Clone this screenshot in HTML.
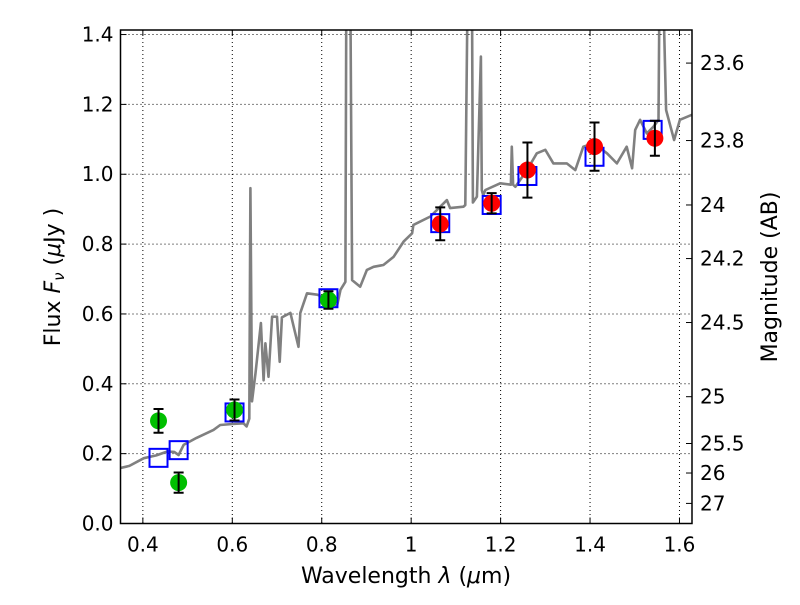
<!DOCTYPE html>
<html><head><meta charset="utf-8">
<style>
html,body{margin:0;padding:0;background:#fff;}
svg text{font-family:"DejaVu Sans","Liberation Sans",sans-serif;fill:#000;}
</style></head>
<body>
<svg id="chart" width="800" height="600" viewBox="0 0 800 600" xmlns="http://www.w3.org/2000/svg">
<g id="grid"></g>
<g id="plot"></g>
<g id="axes"></g>
<text x="406" y="583" font-size="22" text-anchor="middle">Wavelength  <tspan font-style="italic">λ</tspan> (<tspan font-style="italic">μ</tspan>m)</text>
<text transform="translate(60,277) rotate(-90)" font-size="22" text-anchor="middle">Flux  <tspan font-style="italic">F</tspan><tspan font-style="italic" font-size="15" dy="4">ν</tspan><tspan dy="-4">  (</tspan><tspan font-style="italic">μ</tspan>Jy )</text>
<text transform="translate(777,277) rotate(-90)" font-size="22" text-anchor="middle">Magnitude (AB)</text>
</svg>
<script>
const xTicks = [0.4, 0.6, 0.8, 1.0, 1.2, 1.4, 1.6];
const xTickLabels = ["0.4", "0.6", "0.8", "1", "1.2", "1.4", "1.6"];
const yTicks = [0.0, 0.2, 0.4, 0.6, 0.8, 1.0, 1.2, 1.4];
const yTickLabels = ["0.0", "0.2", "0.4", "0.6", "0.8", "1.0", "1.2", "1.4"];
const magTicks = [23.6, 23.8, 24, 24.2, 24.5, 25, 25.5, 26, 27];
const magTickLabels = ["23.6", "23.8", "24", "24.2", "24.5", "25", "25.5", "26", "27"];
const specWave = [0.35,0.37,0.402,0.43,0.454,0.47,0.480,0.491,0.52,0.558,0.573,0.60,0.625,0.632,0.638,0.6405,0.644,0.652,0.664,0.670,0.674,0.681,0.689,0.700,0.706,0.711,0.730,0.748,0.752,0.767,0.790,0.819,0.834,0.842,0.853,0.855,0.857,0.862,0.864,0.868,0.886,0.901,0.916,0.938,0.961,0.983,1.002,1.005,1.043,1.080,1.087,1.117,1.121,1.126,1.128,1.134,1.136,1.138,1.147,1.156,1.158,1.161,1.166,1.199,1.223,1.225,1.228,1.233,1.259,1.281,1.300,1.318,1.348,1.367,1.385,1.408,1.438,1.460,1.482,1.494,1.501,1.512,1.527,1.542,1.553,1.555,1.557,1.562,1.564,1.570,1.588,1.601,1.627,1.63];
const specFlux = [0.159,0.165,0.187,0.195,0.206,0.205,0.196,0.225,0.245,0.268,0.282,0.285,0.287,0.278,0.30,0.96,0.35,0.43,0.574,0.41,0.516,0.42,0.592,0.592,0.463,0.59,0.603,0.506,0.603,0.659,0.655,0.64,0.621,0.669,0.692,1.5,1.5,1.5,1.5,0.697,0.678,0.726,0.735,0.74,0.764,0.807,0.831,0.855,0.879,0.926,0.903,0.907,0.912,1.5,1.5,1.5,1.5,0.919,0.936,1.337,0.955,0.94,0.955,0.974,0.97,1.079,0.97,0.964,1.012,1.06,1.07,1.031,1.031,1.012,1.079,1.089,1.06,1.031,1.079,1.017,1.127,1.156,1.117,1.136,1.156,1.5,1.5,1.5,1.5,1.184,1.098,1.156,1.170,1.17];
const photWave = [0.435, 0.48, 0.605, 0.815, 1.065, 1.18, 1.26, 1.41, 1.545];
const photFlux = [0.294, 0.117, 0.325, 0.640, 0.858, 0.917, 1.012, 1.079, 1.103];
const photErr = [0.034, 0.029, 0.03, 0.025, 0.047, 0.029, 0.079, 0.069, 0.05];
const photColor = ["#00bf00","#00bf00","#00bf00","#00bf00","#ff0000","#ff0000","#ff0000","#ff0000","#ff0000"];
const modelWave = [0.435, 0.48, 0.605, 0.815, 1.065, 1.18, 1.26, 1.41, 1.54];
const modelFlux = [0.188, 0.21, 0.318, 0.645, 0.86, 0.912, 0.995, 1.05, 1.127];

const L=120.5, R=692, T=30, B=523.5;
const xMin=0.35, xMax=1.628, yMin=0, yMax=1.413;
const X = v => L + (v-xMin)/(xMax-xMin)*(R-L);
const Y = v => B - (v-yMin)/(yMax-yMin)*(B-T);
const magToFlux = m => Math.pow(10,(23.9-m)/2.5);
const NS="http://www.w3.org/2000/svg";
function mk(tag, attrs, parent){const e=document.createElementNS(NS,tag);for(const k in attrs)e.setAttribute(k,attrs[k]);parent.appendChild(e);return e;}
const grid=document.getElementById('grid'), plot=document.getElementById('plot'), axes=document.getElementById('axes');

const defs=mk('defs',{},document.getElementById('chart'));
const cp=mk('clipPath',{id:'clip'},defs);
mk('rect',{x:L,y:T,width:R-L,height:B-T},cp);
plot.setAttribute('clip-path','url(#clip)');

xTicks.forEach((t,i)=>{
  const x=X(t);
  const g=mk('line',{x1:x,x2:x,y1:T,y2:B,stroke:'#000','stroke-width':1,'stroke-dasharray':'1,3'},grid);
  
  
  mk('line',{x1:x,x2:x,y1:B,y2:B-6,stroke:'#000','stroke-width':1},axes);
  mk('line',{x1:x,x2:x,y1:T,y2:T+6,stroke:'#000','stroke-width':1},axes);
  const tx=mk('text',{x:x,y:B+28,'font-size':20,'text-anchor':'middle'},axes);
  tx.textContent=xTickLabels[i];
  
  
});
yTicks.forEach((t,i)=>{
  const y=Y(t);
  const g=mk('line',{x1:L,x2:R,y1:y,y2:y,stroke:'#000','stroke-width':1,'stroke-dasharray':'1,3'},grid);
  
  
  mk('line',{x1:L,x2:L+6,y1:y,y2:y,stroke:'#000','stroke-width':1},axes);
  const tx=mk('text',{x:L-7,y:y+7,'font-size':20,'text-anchor':'end'},axes);
  tx.textContent=yTickLabels[i];
  
  
});
magTicks.forEach((m,i)=>{
  const y=Y(magToFlux(m));
  mk('line',{x1:R,x2:R-6,y1:y,y2:y,stroke:'#000','stroke-width':1},axes);
  const tx=mk('text',{x:R+8,y:y+7,'font-size':20,'text-anchor':'start'},axes);
  tx.textContent=magTickLabels[i];
  
  
});

const d=specWave.map((w,i)=>(i?'L':'M')+X(w).toFixed(1)+','+Y(specFlux[i]).toFixed(1)).join('');
const sp=mk('path',{d:d,fill:'none',stroke:'#808080','stroke-width':2.6,'stroke-linejoin':'round'},plot);



modelWave.forEach((w,i)=>{
  const s=mk('rect',{x:X(w)-9,y:Y(modelFlux[i])-9,width:18,height:18,fill:'none',stroke:'#0000ff','stroke-width':2},plot);
  
  
});
photWave.forEach((w,i)=>{
  const x=X(w),y=Y(photFlux[i]);
  const c=mk('circle',{cx:x,cy:y,r:8.5,fill:photColor[i]},plot);
  
  
  const y1=Y(photFlux[i]+photErr[i]), y2=Y(photFlux[i]-photErr[i]);
  const e=mk('path',{d:`M${x},${y1}L${x},${y2}M${x-5},${y1}L${x+5},${y1}M${x-5},${y2}L${x+5},${y2}`,stroke:'#000','stroke-width':2,fill:'none'},plot);
  
  
});

const fr=mk('rect',{x:L,y:T,width:R-L,height:B-T,fill:'none',stroke:'#000','stroke-width':1.5},axes);


</script>
</body></html>
